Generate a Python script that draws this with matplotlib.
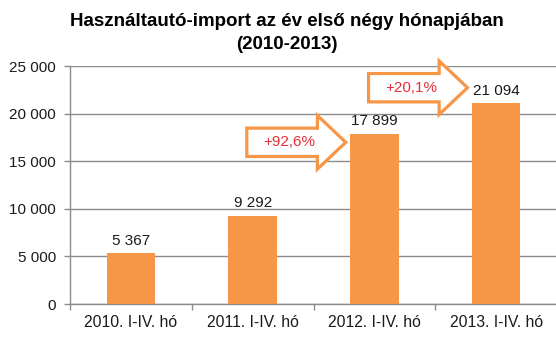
import matplotlib.pyplot as plt
import matplotlib.ticker as ticker
from matplotlib.patches import Polygon

plt.rcParams["font.family"] = ["Liberation Sans", "DejaVu Sans"]

# Adatok
categories = ["2010. I-IV. hó", "2011. I-IV. hó", "2012. I-IV. hó", "2013. I-IV. hó"]
values = [5367, 9292, 17899, 21094]
growth_labels = ["+92,6%", "+20,1%"]
growth_from = [1, 2]          # melyik oszlop után kezdődik a nyíl
growth_y = [16985, 22720]     # nyíl középvonala (érték-skálán)

ORANGE = "#F79646"
GRID = "#8C8C8C"
TEXT = "#1A1A1A"
RED = "#E5303A"


def thousands(x, pos=None):
    return f"{int(round(x)):,}".replace(",", " ")


fig = plt.figure(figsize=(5.56, 3.47), dpi=100)
ax = fig.add_axes([70 / 556, 43 / 347, 487 / 556, 238 / 347])

xs = list(range(len(categories)))
ax.bar(xs, values, width=0.4, color=ORANGE, zorder=3)

for x, v in zip(xs, values):
    ax.text(x, v + 550, thousands(v), ha="center", va="bottom",
            fontsize=11, color=TEXT, zorder=4)

ax.set_xlim(-0.5, len(categories) - 0.5)
ax.set_ylim(0, 25000)
ax.yaxis.set_major_locator(ticker.MultipleLocator(5000))
ax.yaxis.set_major_formatter(ticker.FuncFormatter(thousands))
ax.set_xticks(xs)
ax.set_xticklabels(categories)
ax.set_xticks([x - 0.5 for x in xs], minor=True)
ax.tick_params(axis="x", which="major", length=0, pad=8, labelsize=11.3, labelcolor=TEXT)
ax.tick_params(axis="x", which="minor", length=4, color=GRID, width=1)
ax.tick_params(axis="y", length=4, color=GRID, width=1, pad=6, labelsize=11, labelcolor=TEXT)

ax.grid(axis="y", color=GRID, linewidth=1, zorder=0)
for side in ["top", "right"]:
    ax.spines[side].set_visible(False)
for side in ["left", "bottom"]:
    ax.spines[side].set_color(GRID)
    ax.spines[side].set_linewidth(1)

# Növekedési nyilak (fehér kitöltés, narancs keret)
length = 0.813
head_len = 0.233
body_h = 1490
head_h = 2815
for i, label, yc in zip(growth_from, growth_labels, growth_y):
    tip = i + 1 - 0.2 - 0.035
    x0 = tip - length
    xh = tip - head_len
    pts = [
        (x0, yc - body_h), (xh, yc - body_h), (xh, yc - head_h), (tip, yc),
        (xh, yc + head_h), (xh, yc + body_h), (x0, yc + body_h),
    ]
    ax.add_patch(Polygon(pts, closed=True, facecolor="white", edgecolor=ORANGE,
                         linewidth=2.3, zorder=5, clip_on=False))
    ax.text(x0 + 0.43 * length, yc, label, ha="center", va="center",
            fontsize=11, color=RED, zorder=6)

fig.text(0.516, 0.905, "Használtautó-import az év első négy hónapjában\n(2010-2013)",
         ha="center", va="center", fontsize=13.5, fontweight="bold", color="black",
         linespacing=1.45)

fig.savefig("out.png", dpi=100)
